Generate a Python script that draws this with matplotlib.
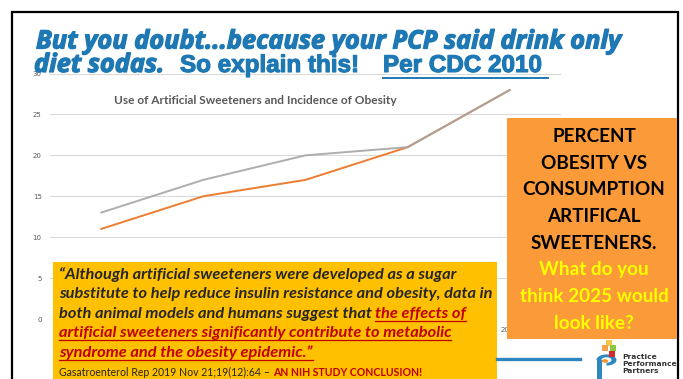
import matplotlib
matplotlib.use("Agg")
import matplotlib.pyplot as plt
import matplotlib.patheffects as pe
from matplotlib.patches import Rectangle, Circle, Wedge
from matplotlib.lines import Line2D

# ---------------- data ----------------
categories = ["2002", "2004", "2006", "2008", "2010"]
obesity_pct = [13, 17, 20, 21, 28]        # gray series
sweetener_use = [11, 15, 17, 21, 28]      # orange series
y_ticks = [0, 5, 10, 15, 20, 25, 30]

title_line1 = "But you doubt...because your PCP said drink only"
title_l2_a = "diet sodas."
title_l2_b = "So explain this!"
title_l2_c = "Per CDC 2010"
chart_title = "Use of Artificial Sweeteners and Incidence of Obesity"
box_black = ["PERCENT", "OBESITY VS", "CONSUMPTION", "ARTIFICAL", "SWEETENERS."]
box_yellow = ["What do you", "think 2025 would", "look like?"]
logo_lines = ["Practice", "Performance", "Partners"]

W, H = 683, 379
fig = plt.figure(figsize=(W / 100, H / 100), dpi=100)
fig.patch.set_facecolor("white")
R = fig.canvas.get_renderer()


def fx(x):
    return x / W


def fy(y):
    return 1 - y / H


def put(x, y, s, size, ha="left", va="baseline", **kw):
    return fig.text(fx(x), fy(y), s, fontsize=size, ha=ha, va=va, **kw)


def width(t):
    return t.get_window_extent(R).width


def fit_size(s, target, **kw):
    t = put(0, 0, s, 10, **kw)
    w = width(t)
    t.remove()
    return 10 * target / w


def space_w(size, **kw):
    a = put(0, 0, "a a", size, **kw)
    b = put(0, 0, "aa", size, **kw)
    w = width(a) - width(b)
    a.remove()
    b.remove()
    return w


def hline(x0, x1, y, color, lw, z=6):
    fig.add_artist(Line2D([fx(x0), fx(x1)], [fy(y), fy(y)], color=color, lw=lw,
                          transform=fig.transFigure, zorder=z))


# ---------------- chart ----------------
ax = fig.add_axes([fx(50), fy(319), fx(561) - fx(50), fy(73.5) - fy(319)])
ax.set_facecolor("none")
x = list(range(len(categories)))
ax.plot(x, sweetener_use, color="#ED7D31", lw=1.4, solid_capstyle="round", zorder=3)
ax.plot(x, obesity_pct, color="#A5A5A5", lw=1.4, solid_capstyle="round", zorder=4, alpha=0.9)
ax.set_xlim(-0.5, len(categories) - 0.5)
ax.set_ylim(0, 30)
ax.set_yticks(y_ticks)
ax.set_yticklabels([str(v) for v in y_ticks])
ax.set_xticks(x)
# only the last category label peeks out from behind the quote box in the reference
ax.set_xticklabels([c if i == len(categories) - 1 else "" for i, c in enumerate(categories)])
ax.grid(axis="y", color="#D9D9D9", lw=0.75)
ax.set_axisbelow(True)
for sp in ax.spines.values():
    sp.set_visible(False)
ax.tick_params(axis="both", length=0, labelsize=5, labelcolor="#595959")
ax.tick_params(axis="y", pad=6)
ax.tick_params(axis="x", pad=6)

# chart title
s = fit_size(chart_title, 284, family="Lato", weight="bold")
put(255, 104, chart_title, s, ha="center", family="Lato", color="#595959", weight="bold")

# ---------------- slide border ----------------
fig.add_artist(Rectangle((fx(12), fy(400)), fx(678) - fx(12), fy(12) - fy(400),
                         transform=fig.transFigure, fill=False, ec="black", lw=1.6, zorder=2))

# ---------------- headline ----------------
blue = "#1E78B4"
stroke = [pe.withStroke(linewidth=0.9, foreground=blue)]
hkw = dict(family="Open Sans", weight="bold", style="italic", color=blue)
hs = fit_size(title_line1, 586, family="Open Sans", weight="bold", style="italic")
put(36, 48.5, title_line1, hs, zorder=5, path_effects=stroke, **hkw)
put(34, 72, title_l2_a, hs, zorder=5, path_effects=stroke, **hkw)
bkw = dict(family="Liberation Sans", weight="bold", color=blue)
bs = fit_size(title_l2_c, 159, family="Liberation Sans", weight="bold")
stroke2 = [pe.withStroke(linewidth=0.8, foreground=blue)]
put(180, 72, title_l2_b, bs, zorder=5, path_effects=stroke2, **bkw)
put(383, 72, title_l2_c, bs, zorder=5, path_effects=stroke2, **bkw)
hline(383, 548, 77.5, blue, 1.4)
hline(540, 560, 73.5, "#D9D9D9", 0.75, z=1)

# ---------------- yellow quote box ----------------
fig.add_artist(Rectangle((fx(53), fy(380)), fx(497) - fx(53), fy(262) - fy(380),
                         transform=fig.transFigure, fc="#FFC000", ec="none", zorder=4))
qkw = dict(family="Lato", weight="bold", style="italic")
qs = fit_size("substitute to help reduce insulin resistance and obesity, data in", 434, **qkw)
sp = space_w(qs, **qkw)
dark = "#262626"
red = "#C00000"
quote_lines = [
    [("\u201cAlthough artificial sweeteners were developed as a sugar", dark, False)],
    [("substitute to help reduce insulin resistance and obesity, data in", dark, False)],
    [("both animal models and humans suggest that", dark, False), ("the effects of", red, True)],
    [("artificial sweeteners significantly contribute to metabolic", red, True)],
    [("syndrome and the obesity epidemic.\u201d", red, True)],
]
base = 279
for i, pieces in enumerate(quote_lines):
    yy = base + i * 19.4
    xx = 59
    for j, (txt, col, ul) in enumerate(pieces):
        if j > 0:
            xx += sp
        t = put(xx, yy, txt, qs, color=col, zorder=5, **qkw)
        w = width(t)
        if ul:
            hline(xx, xx + w, yy + 3, col, 0.9)
        xx += w

cs = 7.6
t = put(59, 376.5, "Gasatroenterol Rep 2019 Nov 21;19(12):64 \u2013", cs, family="Lato",
        color=dark, zorder=5)
xx = 59 + width(t) + space_w(cs, family="Lato")
put(xx, 376.5, "AN NIH STUDY CONCLUSION!", cs, family="Lato", weight="bold", color=red, zorder=5)

# ---------------- orange box ----------------
fig.add_artist(Rectangle((fx(507), fy(339)), fx(677) - fx(507), fy(118) - fy(339),
                         transform=fig.transFigure, fc="#FA9A38", ec="none", zorder=4))
os_ = fit_size("CONSUMPTION", 143, family="Lato", weight="bold")
obase = [142, 168.7, 195.4, 222, 248.8, 275.5, 302.2, 329]
for i, txt in enumerate(box_black + box_yellow):
    col = "black" if i < len(box_black) else "#FFFF00"
    put(594, obase[i], txt, os_, ha="center", family="Lato", weight="bold", color=col, zorder=5)

# ---------------- footer ----------------
hline(497, 580, 359, "#2E86C1", 2.4)
# logo
fig.add_artist(Wedge((fx(606.5), fy(360)), fx(10), -90, 180, width=fx(5),
                     transform=fig.transFigure, fc="#2E86C1", ec="none", zorder=5))
fig.add_artist(Rectangle((fx(596.5), fy(380)), fx(5), fy(360) - fy(380),
                         transform=fig.transFigure, fc="#2E86C1", ec="none", zorder=5))
fig.add_artist(Circle((fx(605), fy(361)), fx(3.2), transform=fig.transFigure,
                      fc="#F0922E", ec="none", zorder=6))
for (cx, cy, c) in [(609, 343, "#F6C342"), (613, 347.5, "#8DC63F"), (612, 354, "#D7262C"),
                    (604.5, 348, "#F6A04D")]:
    fig.add_artist(Rectangle((fx(cx - 3), fy(cy + 3)), fx(6), fy(cy - 3) - fy(cy + 3),
                             transform=fig.transFigure, fc=c, ec="none", zorder=6))
for i, txt in enumerate(logo_lines):
    put(622, 359 + i * 7, txt, 5.4, family="DejaVu Sans", weight="bold", color="#333333", zorder=6)

fig.savefig("out.png", dpi=100, facecolor="white")
